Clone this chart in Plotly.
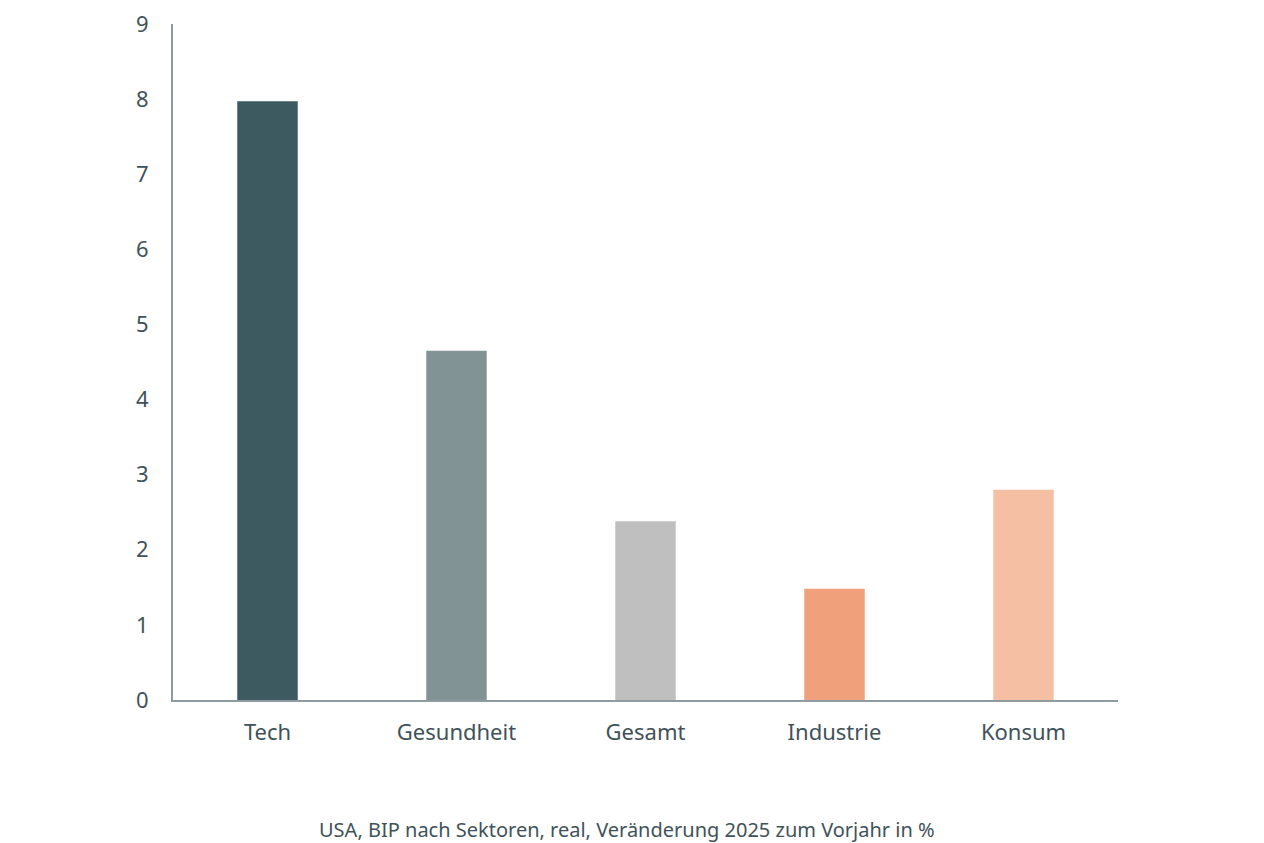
import plotly.graph_objects as go

sectors = ["Tech", "Gesundheit", "Gesamt", "Industrie", "Konsum"]
growth = [7.97, 4.65, 2.38, 1.48, 2.80]
bar_colors = ["#3d5a60", "#829396", "#bfbfbf", "#f0a07a", "#f5bfa3"]
y_ticks = [0, 1, 2, 3, 4, 5, 6, 7, 8, 9]
caption = "USA, BIP nach Sektoren, real, Veränderung 2025 zum Vorjahr in %"

text_color = "#3f5259"
axis_color = "#8e9ca0"

fig = go.Figure()
fig.add_trace(go.Bar(
    x=sectors,
    y=growth,
    marker=dict(color=bar_colors, line=dict(width=0)),
    width=0.32,
    hoverinfo="x+y",
))

# page body has an 8px margin, so the figure is a bit smaller than the window
fig.update_layout(
    width=1256,
    height=835,
    margin=dict(l=165, r=146, t=16, b=143),
    plot_bgcolor="white",
    paper_bgcolor="white",
    font=dict(family="Noto Sans", size=22, color=text_color),
    showlegend=False,
    xaxis=dict(
        showline=True,
        linecolor=axis_color,
        linewidth=2,
        ticks="",
        showgrid=False,
        ticklabelstandoff=12,
        range=[-0.5, 4.5],
        automargin=False,
    ),
    yaxis=dict(
        range=[0, 9],
        tickvals=y_ticks,
        showline=True,
        linecolor=axis_color,
        linewidth=2,
        ticks="",
        showgrid=False,
        zeroline=False,
        ticklabelstandoff=18,
        ticklabeloverflow="allow",
        automargin=False,
    ),
)

fig.add_annotation(
    text=caption,
    x=0.48, xref="paper",
    y=-0.191, yref="paper",
    yanchor="middle",
    showarrow=False,
    font=dict(size=20, color=text_color),
)

fig.write_html("out.html")
